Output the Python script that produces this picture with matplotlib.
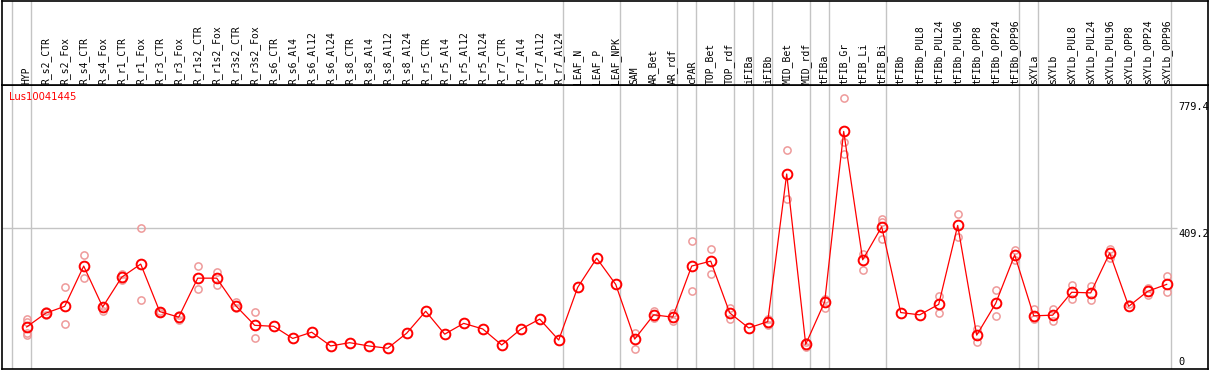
import matplotlib
matplotlib.use("Agg")
import matplotlib.pyplot as plt
from matplotlib.lines import Line2D

# ---------------- data ----------------
gene = "Lus10041445"

categories = [
    "HYP", "R_s2_CTR", "R_s2_Fox", "R_s4_CTR", "R_s4_Fox", "R_r1_CTR", "R_r1_Fox",
    "R_r3_CTR", "R_r3_Fox", "R_r1s2_CTR", "R_r1s2_Fox", "R_r3s2_CTR", "R_r3s2_Fox",
    "R_s6_CTR", "R_s6_Al4", "R_s6_Al12", "R_s6_Al24", "R_s8_CTR", "R_s8_Al4",
    "R_s8_Al12", "R_s8_Al24", "R_r5_CTR", "R_r5_Al4", "R_r5_Al12", "R_r5_Al24",
    "R_r7_CTR", "R_r7_Al4", "R_r7_Al12", "R_r7_Al24", "LEAF_N", "LEAF_P", "LEAF_NPK",
    "SAM", "AR_Bet", "AR_rdf", "cPAR", "TOP_Bet", "TOP_rdf", "iFIBa", "iFIBb",
    "MID_Bet", "MID_rdf", "tFIBa", "tFIB_Gr", "tFIB_Li", "tFIB_Bi", "tFIBb",
    "tFIBb_PUL8", "tFIBb_PUL24", "tFIBb_PUL96", "tFIBb_OPP8", "tFIBb_OPP24",
    "tFIBb_OPP96", "sXYLa", "sXYLb", "sXYLb_PUL8", "sXYLb_PUL24", "sXYLb_PUL96",
    "sXYLb_OPP8", "sXYLb_OPP24", "sXYLb_OPP96",
]

means = [
    107, 149, 170, 293, 168, 259, 299, 154, 137, 256, 256, 172, 112,
    109, 72, 91, 49, 59, 49, 42, 88, 155, 85, 118, 101, 52, 100, 131, 67,
    228, 317, 237, 70, 144, 137, 293, 308, 150, 104, 123, 574, 54, 184,
    704, 312, 413, 151, 144, 176, 417, 82, 179, 327, 141, 143, 213, 211,
    333, 170, 216, 237,
]

replicates = [
    [130, 122, 90, 82], [156, 144], [228, 115], [326, 256], [171, 156], [269, 250],
    [408, 188], [156, 151], [144, 128], [293, 222], [275, 236], [184, 166], [152, 73],
    [], [], [], [], [], [], [], [], [], [], [], [], [], [], [], [],
    [], [], [],
    [90, 39], [155, 135], [149, 126], [370, 217], [345, 268], [165, 132], [],
    [132, 113], [646, 499], [61, 45], [192, 166], [805, 671, 635], [330, 280],
    [438, 428, 376], [], [], [202, 151], [451, 383], [101, 60], [219, 140],
    [341, 311], [162, 130], [162, 126], [235, 193], [232, 190], [345, 319],
    [178], [227, 204], [263, 213],
]

group_ends = [-1, 0, 28, 31, 34, 35, 37, 38, 39, 41, 42, 45, 52, 53, 60]
axis_labels = ["779.4", "409.2", "0"]
axis_values = [779.4, 409.2, 0.0]

# ---------------- layout (pixels) ----------------
W, H, DPI = 1209, 370, 100
L, R, T, SEP, B = 1.5, 1207.5, 0.5, 85.0, 368.5
X0, DX = 26.7, 19.0          # pixel x of first category, spacing
Y0, KY = 362.0, 0.3275       # pixel y of value 0, pixels per unit

def px2idx(px):
    return (px - X0) / DX

def py2val(py):
    return (Y0 - py) / KY

fig = plt.figure(figsize=(W / DPI, H / DPI), dpi=DPI)
fig.patch.set_facecolor("white")

xlim = (px2idx(L), px2idx(R))

# plot axes
ax = fig.add_axes([L / W, (H - B) / H, (R - L) / W, (B - SEP) / H])
ax.set_xlim(*xlim)
ax.set_ylim(py2val(B), py2val(SEP))
ax.set_xticks([])
ax.set_yticks([])
for s in ax.spines.values():
    s.set_color("black")
    s.set_linewidth(1.2)

# header axes
hx = fig.add_axes([L / W, (H - SEP) / H, (R - L) / W, (SEP - T) / H])
hx.set_xlim(*xlim)
hx.set_ylim(SEP, T)
hx.set_xticks([])
hx.set_yticks([])
for s in hx.spines.values():
    s.set_color("black")
    s.set_linewidth(1.2)

grid_col = "#c4c4c4"
sep_off = 4.0 / DX
for g in group_ends:
    ax.axvline(g + sep_off, color=grid_col, lw=1.0, zorder=1)
    hx.axvline(g + sep_off, color=grid_col, lw=1.0, zorder=1)

# horizontal grid line
ax.hlines(409.2, xlim[0], px2idx(1177), color=grid_col, lw=1.0, zorder=1)

# replicates
rx, ry = [], []
for i, vals in enumerate(replicates):
    for v in vals:
        rx.append(i)
        ry.append(v)
ax.plot(rx, ry, linestyle="none", marker="o", markersize=5.2, mfc="none",
        mec="#ee9a9a", mew=1.1, zorder=2)

# means
xs = list(range(len(categories)))
ax.plot(xs, means, color="#ff0000", lw=0.9, zorder=3)
ax.plot(xs, means, linestyle="none", marker="o", markersize=7.0, mfc="none",
        mec="#ff0000", mew=1.4, zorder=4)

# right value labels
mono = "DejaVu Sans Mono"
lab_x = px2idx(1178)
for lab, v in zip(axis_labels, axis_values):
    va = "top" if lab == "409.2" else "center"
    ax.text(lab_x, v if va == "center" else v - 3, lab, ha="left", va=va,
            fontsize=7.4, family=mono, color="black", zorder=5)

# gene title
ax.text(px2idx(9), py2val(97), gene, ha="left", va="center", fontsize=7.2,
        family="DejaVu Sans", color="#ff0000", zorder=5)

# header labels
for i, c in enumerate(categories):
    hx.text(i, 83.5, c, rotation=90, ha="center", va="bottom", fontsize=7.0,
            family=mono, color="black")

fig.savefig("out.png", dpi=DPI, facecolor="white")
